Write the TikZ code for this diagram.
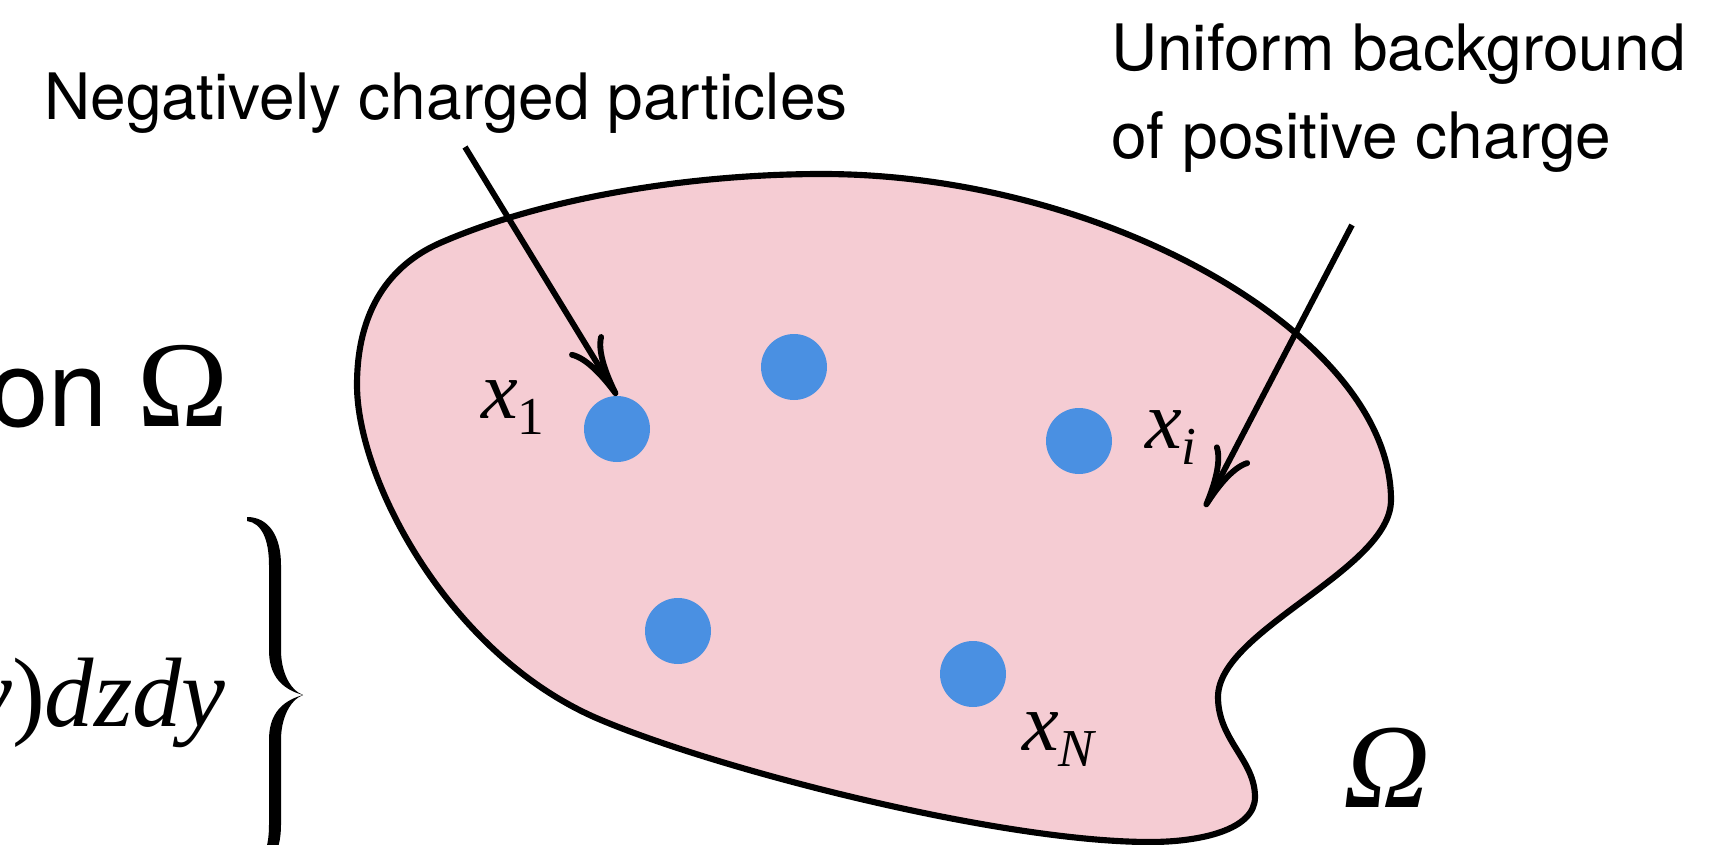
\documentclass[tikz,border=0pt]{standalone}
\usepackage{fontspec}
\setmainfont{TeX Gyre Heros}
\newfontfamily\tnr{Liberation Serif}
\usetikzlibrary{arrows.meta}

\definecolor{blobpink}{RGB}{245,204,211}
\definecolor{dotblue}{RGB}{74,144,226}

\newcommand{\xsub}[1]{\textit{x}\raisebox{-12pt}{\fontsize{40}{40}\selectfont #1}}

\tikzset{
  charge/.style={circle, fill=dotblue, inner sep=0pt, minimum size=49.5pt},
  pointer/.style={line width=4.4pt, -{Computer Modern Rightarrow[length=46pt,width=30pt]}},
}

\begin{document}
\begin{tikzpicture}[x=0.75pt,y=0.75pt,yscale=-1,xscale=1]
\useasboundingbox (0,0) rectangle (1711,845);

%Shape: Polygon Curved
\draw [fill=blobpink, line width=4.6pt] (357,385) .. controls (357,310) and (390,265) .. (440,243) .. controls (550,195) and (700,174) .. (822,174) .. controls (1107,174) and (1391,337) .. (1391,500) .. controls (1391,570) and (1218,630) .. (1218,697) .. controls (1218,740) and (1255,760) .. (1255,797) .. controls (1255,830) and (1200,842) .. (1150,842) .. controls (1000,842) and (720,770) .. (601,720) .. controls (450,657) and (357,480) .. (357,385) -- cycle ;

%Shape: Circle
\node [charge] (p1) at (617,429) {};
%Shape: Circle
\node [charge] (p2) at (794,367) {};
%Shape: Circle
\node [charge] (p3) at (1079,441) {};
%Shape: Circle
\node [charge] (p4) at (678,631) {};
%Shape: Circle
\node [charge] (p5) at (973,674) {};

%Shape: Brace
\fill (247,517) .. controls (268,517) and (281,535) .. (281,565) -- (281,650) .. controls (281,672) and (290,690) .. (303,695) .. controls (290,700) and (281,718) .. (281,740) -- (281,825) .. controls (281,855) and (268,873) .. (247,873) -- (247,869) .. controls (262,866) and (269,850) .. (269,825) -- (269,740) .. controls (269,718) and (278,702) .. (303,695) .. controls (278,688) and (269,672) .. (269,650) -- (269,565) .. controls (269,540) and (262,523) .. (247,521) -- cycle ;

% Text Node
\draw (44,120) node [anchor=base west][inner sep=0pt] [font=\fontsize{48}{58}\selectfont] (negtxt) {Negatively charged particles};
% Text Node
\draw (1111,71) node [anchor=base west][inner sep=0pt] [font=\fontsize{48}{58}\selectfont] (bgtxt) {Uniform background};
% Text Node
\node [anchor=base west, inner sep=0pt, font=\fontsize{48}{58}\selectfont, yshift=-66pt] (bgtxtb) at (bgtxt.base west) {of positive charge};
% Text Node
\draw (229,426) node [anchor=base east][inner sep=0pt] (ontxt) {\fontsize{80}{90}\selectfont on {\tnr\fontsize{92}{92}\selectfont Ω}};
% Text Node
\draw (226,726) node [anchor=base east][inner sep=0pt] (inttxt) {\tnr\fontsize{74}{80}\selectfont\itshape y\upshape)\itshape dzdy};
% Text Node
\draw (481,418) node [anchor=base west][inner sep=0pt] [font=\tnr\fontsize{62}{70}\selectfont] (lx1) {\xsub{1}};
% Text Node
\draw (1145,448) node [anchor=base west][inner sep=0pt] [font=\tnr\fontsize{62}{70}\selectfont] (lxi) {\xsub{\itshape i}};
% Text Node
\draw (1022,750) node [anchor=base west][inner sep=0pt] [font=\tnr\fontsize{62}{70}\selectfont] (lxn) {\xsub{\itshape N}};
% Text Node
\draw (1343,807) node [anchor=base west][inner sep=0pt] (omlab) {\tnr\fontsize{90}{90}\selectfont\itshape Ω};

%Straight Lines
\coordinate (negtail) at (465,147);
\coordinate (bgtail) at (1352,225);
\coordinate (bgtip) at (1205,507);
\draw [pointer] (negtail) -- (p1.north);
\draw [pointer] (bgtail) -- (bgtip);

\end{tikzpicture}
\end{document}
